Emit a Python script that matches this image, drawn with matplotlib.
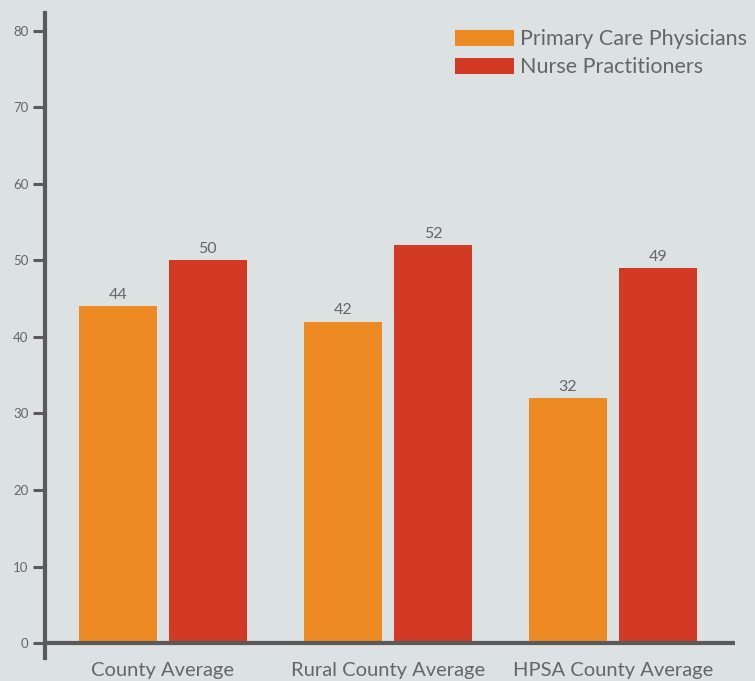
import numpy as np
import matplotlib.pyplot as plt

# data
categories = ["County Average", "Rural County Average", "HPSA County Average"]
physicians = [44, 42, 32]
nurses = [50, 52, 49]
series_names = ["Primary Care Physicians", "Nurse Practitioners"]

BG = "#dce1e1"
ORANGE = "#ee8a24"
RED = "#d33a26"
GRAY = "#5a5a5a"
TXT = "#666666"

plt.rcParams['font.family'] = ['Lato', 'DejaVu Sans']

fig = plt.figure(figsize=(7.55, 6.81), dpi=100, facecolor=BG)
ax = fig.add_axes([45 / 755, 23 / 681, 690 / 755, 645 / 681])
ax.set_facecolor(BG)

x = np.arange(len(categories))
w = 0.35
offset = 0.2
b1 = ax.bar(x - offset, physicians, w, color=ORANGE, label=series_names[0], zorder=2)
b2 = ax.bar(x + offset, nurses, w, color=RED, label=series_names[1], zorder=2)

for bars in (b1, b2):
    for b in bars:
        ax.text(b.get_x() + b.get_width() / 2, b.get_height() + 0.6, f"{b.get_height():.0f}",
                ha="center", va="bottom", fontsize=11.5, color=TXT)

ax.set_xlim(-0.524, 2.542)
ax.set_ylim(-1.96, 82.35)
ax.axhline(0, color=GRAY, lw=3, zorder=3, xmin=0, xmax=1)

for s in ("top", "right", "bottom"):
    ax.spines[s].set_visible(False)
ax.spines["left"].set_color(GRAY)
ax.spines["left"].set_linewidth(3)

ax.set_yticks(range(0, 81, 10))
ax.tick_params(axis="y", length=9, width=2.2, color=GRAY, labelsize=9.5, labelcolor=TXT, pad=3)
ax.set_xticks(x)
ax.set_xticklabels(categories)
ax.tick_params(axis="x", length=0, labelsize=14.5, labelcolor=TXT, pad=3)

ax.legend(loc="upper left", bbox_to_anchor=(0.594, 0.975), frameon=False, fontsize=15.5,
          handlelength=2.75, handleheight=0.75, handletextpad=0.28, labelspacing=0.38,
          labelcolor=TXT, borderaxespad=0, borderpad=0)

fig.savefig("out.png", dpi=100, facecolor=BG)
